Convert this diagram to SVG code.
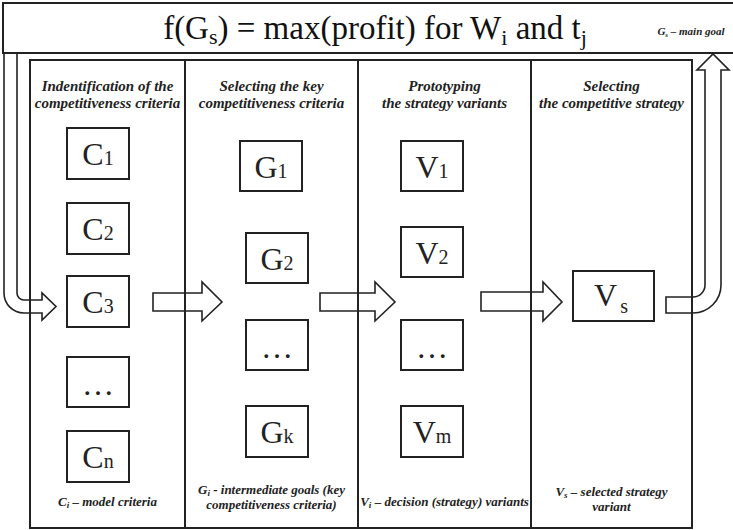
<svg xmlns="http://www.w3.org/2000/svg" width="733" height="530" viewBox="0 0 733 530" font-family="Liberation Serif, Times New Roman, serif">
  <style>
    .line { fill: none; stroke: #222; stroke-width: 2; }
    .box { fill: #fff; stroke: #222; stroke-width: 2; }
    .arrow { fill: none; stroke: #222; stroke-width: 1.6; stroke-linejoin: miter; }
    .lbl { font-family: Liberation Serif, serif; font-size: 32px; fill: #222; text-anchor: middle; }
    .sub { font-size: 20px; }
    .head { font-family: Liberation Serif, serif; font-size: 15px; font-style: italic; font-weight: bold; fill: #222; text-anchor: middle; }
    .note { font-family: Liberation Serif, serif; font-size: 13px; font-style: italic; font-weight: bold; fill: #222; text-anchor: middle; }
  </style>

  <rect width="733" height="530" fill="#fff"/>

  <!-- goal function banner -->
  <g id="goal">
    <rect x="3" y="3" width="732" height="50" class="line"/>
    <text x="375" y="39" font-size="33" fill="#111" text-anchor="middle">f(G<tspan font-size="22" dy="5">s</tspan><tspan dy="-5">) = max(profit) for W</tspan><tspan font-size="22" dy="6">i</tspan><tspan dy="-6"> and t</tspan><tspan font-size="22" dy="6">j</tspan></text>
    <text x="691" y="35" class="note" style="font-size:11px">G<tspan font-size="7" dy="2">s</tspan><tspan dy="-2"> – main goal</tspan></text>
  </g>

  <!-- stage frame with four columns -->
  <g id="frame">
    <rect x="30" y="60" width="662" height="468" class="line"/>
    <line x1="185" y1="60" x2="185" y2="528" class="line"/>
    <line x1="358" y1="60" x2="358" y2="528" class="line"/>
    <line x1="531" y1="60" x2="531" y2="528" class="line"/>
  </g>

  <!-- column headings -->
  <g id="headings">
    <text x="107.5" y="91" class="head">Indentification of the</text>
    <text x="107.5" y="108" class="head">competitiveness criteria</text>
    <text x="271.5" y="91" class="head">Selecting the key</text>
    <text x="271.5" y="108" class="head">competitiveness criteria</text>
    <text x="444.5" y="91" class="head">Prototyping</text>
    <text x="444.5" y="108" class="head">the strategy variants</text>
    <text x="611.5" y="91" class="head">Selecting</text>
    <text x="611.5" y="108" class="head">the competitive strategy</text>
  </g>

  <!-- column 1: criteria -->
  <g id="c1"><rect x="67" y="128" width="62" height="51" class="box"/><text x="98" y="165" class="lbl">C<tspan class="sub">1</tspan></text></g>
  <g id="c2"><rect x="67" y="203" width="62" height="51" class="box"/><text x="98" y="240" class="lbl">C<tspan class="sub">2</tspan></text></g>
  <g id="c3"><rect x="67" y="276" width="62" height="51" class="box"/><text x="98" y="313" class="lbl">C<tspan class="sub">3</tspan></text></g>
  <g id="c-dots"><rect x="67" y="357" width="62" height="50" class="box"/><text x="98" y="395" class="lbl">…</text></g>
  <g id="cn"><rect x="67" y="431" width="62" height="51" class="box"/><text x="98" y="468" class="lbl">C<tspan class="sub">n</tspan></text></g>

  <!-- column 2: key criteria -->
  <g id="g1"><rect x="240" y="141" width="62" height="50" class="box"/><text x="271" y="178" class="lbl">G<tspan class="sub">1</tspan></text></g>
  <g id="g2"><rect x="246" y="233" width="62" height="50" class="box"/><text x="277" y="270" class="lbl">G<tspan class="sub">2</tspan></text></g>
  <g id="g-dots"><rect x="246" y="320" width="62" height="50" class="box"/><text x="277" y="358" class="lbl">…</text></g>
  <g id="gk"><rect x="246" y="406" width="62" height="51" class="box"/><text x="277" y="443" class="lbl">G<tspan class="sub">k</tspan></text></g>

  <!-- column 3: strategy variants -->
  <g id="v1"><rect x="401" y="141" width="62" height="50" class="box"/><text x="432" y="178" class="lbl">V<tspan class="sub">1</tspan></text></g>
  <g id="v2"><rect x="401" y="227" width="62" height="50" class="box"/><text x="432" y="264" class="lbl">V<tspan class="sub">2</tspan></text></g>
  <g id="v-dots"><rect x="401" y="320" width="62" height="50" class="box"/><text x="432" y="358" class="lbl">…</text></g>
  <g id="vm"><rect x="401" y="406" width="62" height="51" class="box"/><text x="432" y="443" class="lbl">V<tspan class="sub">m</tspan></text></g>

  <!-- column 4: selected strategy -->
  <g id="vs"><rect x="573" y="271" width="81" height="50" class="box"/><text x="611" y="306" class="lbl">V<tspan class="sub" dx="3" dy="7">s</tspan></text></g>

  <!-- column footnotes -->
  <g id="notes">
    <text x="107.5" y="506" class="note">C<tspan font-size="9" dy="2">i</tspan><tspan dy="-2"> – model criteria</tspan></text>
    <text x="271.5" y="494" class="note">G<tspan font-size="9" dy="2">i</tspan><tspan dy="-2"> - intermediate goals (key</tspan></text>
    <text x="271.5" y="509" class="note">competitiveness criteria)</text>
    <text x="444.5" y="506" class="note">V<tspan font-size="9" dy="2">i</tspan><tspan dy="-2"> – decision (strategy) variants</tspan></text>
    <text x="611.5" y="496" class="note">V<tspan font-size="9" dy="2">s</tspan><tspan dy="-2"> –  selected strategy</tspan></text>
    <text x="611.5" y="511" class="note">variant</text>
  </g>

  <!-- block arrows -->
  <g id="connectors">
    <path class="arrow" d="M4,53 V293 A20,20 0 0 0 24,313 H42 V320 L56,306.5 L42,293 V300 H24 A7,7 0 0 1 17,293 V53"/>
    <path class="arrow" d="M153,293 H202 V282 L222,302 L202,321 V311 H153 Z"/>
    <path class="arrow" d="M320,293 H375 V282 L395,302 L375,321 V311 H320 Z"/>
    <path class="arrow" d="M481,292 H543 V282 L562,302 L543,321 V311 H481 Z"/>
    <path class="arrow" d="M666,297 H693 A12,12 0 0 0 705,285 V70 H697 L713,54 L729,70 H721 V285 A28,28 0 0 1 693,313 H666 Z"/>
  </g>
</svg>
